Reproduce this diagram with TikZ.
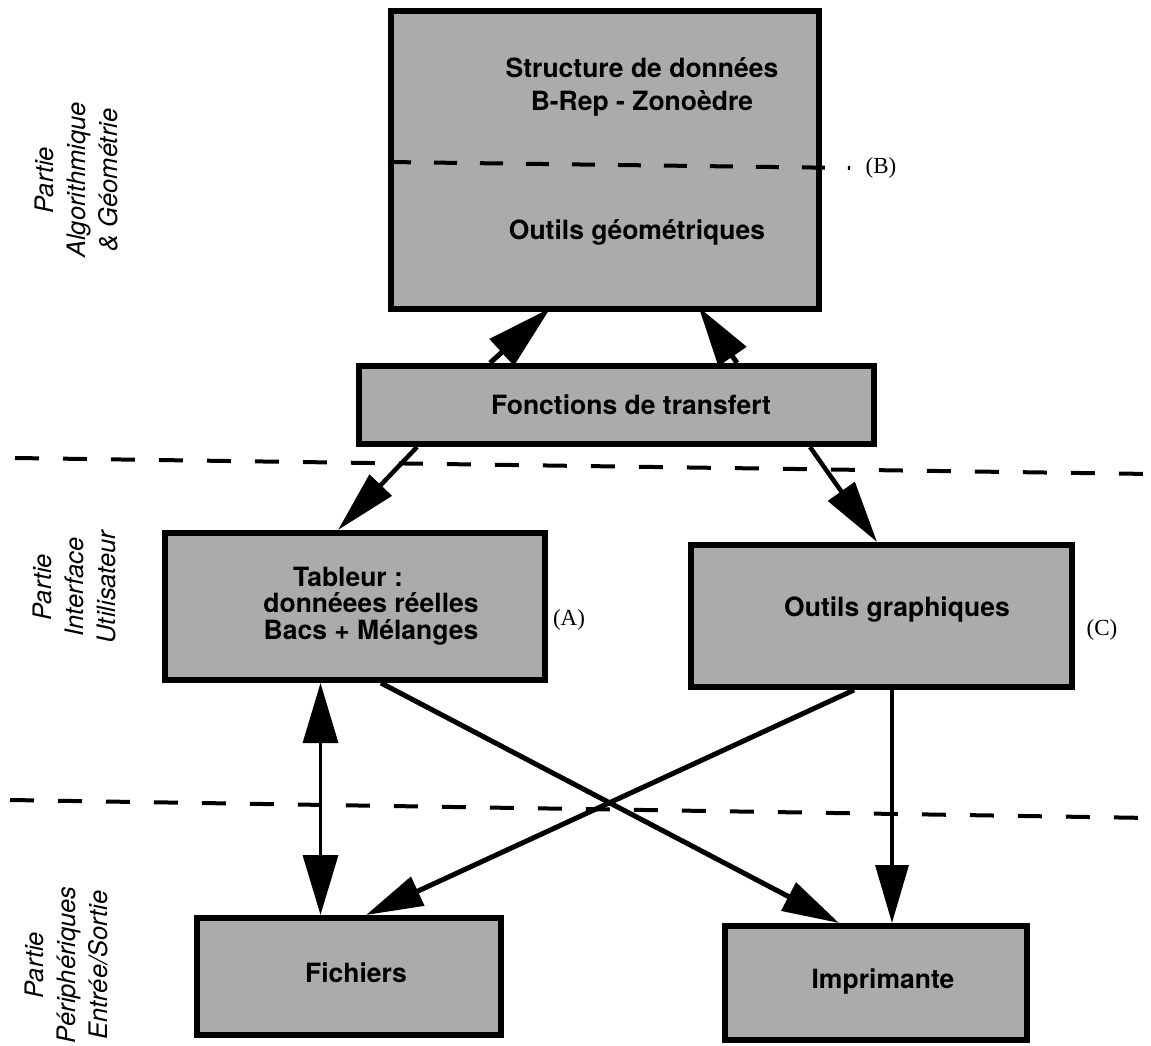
\documentclass[tikz,border=0pt]{standalone}
\usepackage{fontspec}
\setmainfont{TeX Gyre Heros}
\newfontfamily\serifB{Liberation Serif}
\usetikzlibrary{arrows.meta}
\pgfdeclarelayer{background}
\pgfsetlayers{background,main}
\begin{document}
\begin{tikzpicture}[x=1pt,y=-1pt,
  box/.style={draw=black, line width=6pt, fill=black!33, inner sep=0pt},
  boxtext/.style={font=\fontsize{26.5}{33}\selectfont\bfseries, align=center, inner sep=0pt},
  side/.style={font=\fontsize{25.5}{32}\selectfont\itshape, align=center, rotate=90, inner sep=0pt},
  tag/.style={font=\serifB\fontsize{23}{26}\selectfont, inner sep=0pt},
  sep/.style={line width=4pt, dash pattern=on 24pt off 24pt},
  conn/.style={line width=4.5pt},
  thinconn/.style={line width=3.5pt}]
\useasboundingbox (0,0) rectangle (1151,1046);
\begin{pgfonlayer}{background}
\fill[white] (0,0) rectangle (1151,1046);
\end{pgfonlayer}

% boxes
\node[box, minimum width=428pt, minimum height=298pt] (top) at (605,160) {};
\node[box, minimum width=515pt, minimum height=78pt] (fonc) at (616.5,405) {};
\node[box, minimum width=380pt, minimum height=147pt] (tab) at (355,606.5) {};
\node[box, minimum width=381pt, minimum height=142pt] (outg) at (881.5,616) {};
\node[box, minimum width=304pt, minimum height=117pt] (fich) at (349,976.5) {};
\node[box, minimum width=302pt, minimum height=114pt] (impr) at (876,983) {};

% box texts
\node[boxtext] (topA) at (642,87) {Structure de données\\B-Rep - Zonoèdre};
\node[boxtext] (topB) at (637,232) {Outils géométriques};
\node[boxtext] (foncT) at (631,405) {Fonctions de transfert};
\node[boxtext, font=\fontsize{26.5}{26.5}\selectfont\bfseries] (tabT) at (371,606) {Tableur :\kern46pt\\donnéees réelles\\Bacs + Mélanges};
\node[boxtext] (outgT) at (897,610) {Outils graphiques};
\node[boxtext] (fichT) at (356,973) {Fichiers};
\node[boxtext] (imprT) at (883,982) {Imprimante};

% dashed line inside top box
\coordinate (bEnd) at (850,168);
\draw[sep, dash pattern=on 23pt off 23pt] ([yshift=-2pt]top.west) -- (bEnd);

% tags
\node[tag] (labB) at (881,168) {(B)};
\node[tag] (labA) at (569,620) {(A)};
\node[tag] (labC) at (1102,630) {(C)};

% side labels
\node[side] (s1) at (76,180) {Partie\\Algorithmique\\\& Géométrie};
\node[side] (s2) at (74,587) {Partie\\Interface\\Utilisateur};
\node[side] (s3) at (66,965) {Partie\\Périphériques\\Entrée/Sortie};

% separators
\coordinate (d1a) at (15,458);
\coordinate (d1b) at (1151,474);
\coordinate (d2a) at (10,800);
\coordinate (d2b) at (1151,818);
\draw[sep] (d1a) -- (d1b);
\draw[sep] (d2a) -- (d2b);

% connectors (behind boxes)
\begin{pgfonlayer}{background}
\draw[line width=5pt, -{Triangle[length=66pt,width=35pt]}, shorten >=-6pt]
  ([xshift=134pt]fonc.north west) -- ([xshift=-59pt]top.south);
\draw[line width=5pt, -{Triangle[length=60pt,width=33pt]}, shorten >=-6pt]
  ([xshift=381pt]fonc.north west) -- ([xshift=97pt]top.south);
\draw[conn, -{Triangle[length=62pt,width=30pt]}]
  ([xshift=61pt]fonc.south west) -- ([xshift=176pt]tab.north west);
\draw[conn, -{Triangle[length=62pt,width=32pt]}]
  ([xshift=454pt]fonc.south west) -- ([xshift=189pt]outg.north west);
\draw[thinconn, {Triangle[length=60pt,width=35pt]}-{Triangle[length=60pt,width=35pt]}]
  ([xshift=158.5pt]tab.south west) -- ([xshift=126.5pt]fich.north west);
\draw[line width=5pt, -{Triangle[length=57pt,width=31pt]}]
  ([xshift=219pt]tab.south west) -- ([xshift=117pt]impr.north west);
\draw[line width=5pt, -{Triangle[length=57pt,width=31pt]}]
  ([xshift=166pt]outg.south west) -- ([xshift=172pt]fich.north west);
\draw[thinconn, -{Triangle[length=58pt,width=33pt]}]
  ([xshift=204pt]outg.south west) -- ([xshift=170pt]impr.north west);
\end{pgfonlayer}
\end{tikzpicture}
\end{document}
